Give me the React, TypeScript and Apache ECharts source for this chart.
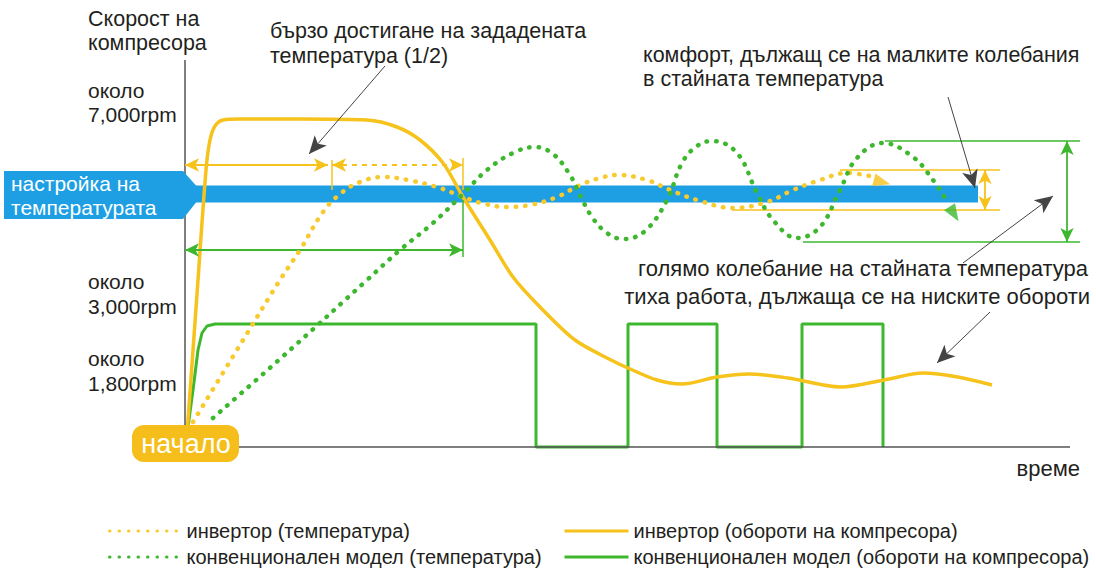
import React, { useEffect, useRef } from "react";
import * as echarts from "echarts";

// ---- data (x = time from start, y = level above the time axis) ----
const inverterSpeed: [number, number][] = [
  [1, 5], [3, 27], [13, 167], [21, 277], [25, 307], [30, 321], [38, 327], [55, 328],
  [115, 328], [182, 327], [212, 320], [235, 307], [258, 284], [278, 250], [305, 207],
  [328, 170], [355, 140], [390, 107], [426, 87], [443, 79], [472, 67], [497, 63],
  [532, 70], [564, 73], [603, 69], [656, 60], [699, 67], [738, 74], [773, 70], [807, 62],
];
const conventionalSpeed: [number, number][] = [
  [1, 5], [8, 57], [13, 97], [17, 114], [22, 121], [30, 123], [351, 123], [351, 0],
  [443, 0], [443, 123], [532, 123], [532, 0], [617, 0], [617, 123], [698, 123], [698, 0],
];
const inverterTemp: [number, number][] = [
  [8, 25], [55, 102], [95, 167], [115, 197], [138, 235], [155, 253], [175, 265], [198, 270],
  [228, 266], [255, 259], [278, 250], [300, 243], [322, 240], [345, 242], [372, 250],
  [395, 262], [415, 269], [432, 272], [462, 267], [485, 257], [512, 247], [548, 239],
  [582, 245], [608, 257], [635, 267], [662, 274], [685, 271],
];
const conventionalTemp: [number, number][] = [
  [28, 29], [105, 97], [182, 167], [215, 197], [248, 224], [278, 253], [302, 277],
  [328, 294], [350, 300], [368, 293], [385, 272], [395, 252], [407, 230], [422, 214],
  [438, 208], [460, 216], [482, 247], [497, 284], [512, 301], [527, 306], [552, 294],
  [572, 254], [588, 227], [612, 209], [635, 220], [655, 257], [672, 289], [698, 304],
  [728, 290], [748, 267], [760, 249],
];
const setpointBand: [number, number][] = [[10, 253], [793, 253]];
// arrow heads at the end of the temperature curves: [x, y, rotation]
const tempArrowHeads: [number, number, number][] = [
  [697, 265, -105],
  [769, 233, -148],
];

const seriesNames = [
  "инвертор (температура)",
  "конвенционален модел (температура)",
  "инвертор (обороти на компресора)",
  "конвенционален модел (обороти на компресора)",
];

// dimension / guide lines: [x1, y1, x2, y2]
const yellowArrows: [number, number, number, number][] = [
  [0, 282, 143, 282],
  [800, 277, 800, 237],
];
const yellowDashedArrows: [number, number, number, number][] = [[147, 282, 278, 282]];
const yellowGuides: [number, number, number, number][] = [
  [147, 287, 147, 257],
  [278, 289, 278, 257],
  [655, 277, 815, 277],
  [547, 237, 815, 237],
];
const greenArrows: [number, number, number, number][] = [
  [0, 197, 278, 197],
  [882, 306, 882, 205],
];
const greenGuides: [number, number, number, number][] = [
  [278, 247, 278, 190],
  [700, 306, 895, 306],
  [618, 205, 895, 205],
];
const pointerArrows: [number, number, number, number][] = [
  [200, 381, 124, 293],
  [763, 350, 790, 259],
  [778, 184, 868, 251],
  [805, 135, 752, 84],
];
const axisLines: [number, number, number, number][] = [
  [0, 0, 0, 387],
  [54, 0, 885, 0],
];

const YELLOW = "#F6C21C";
const YELLOW_DOT = "#F8CA2E";
const GREEN = "#3DB82E";
const BLUE = "#1E9FE3";
const TEXT = "#231F20";
const FONT = "Liberation Sans";

function seg(
  l: [number, number, number, number],
  color: string,
  width: number,
  type: any,
  sym: [string, string],
  size: any
) {
  return [
    { coord: [l[0], l[1]], symbol: sym[0], symbolSize: size, lineStyle: { color, width, type } },
    { coord: [l[2], l[3]], symbol: sym[1], symbolSize: size },
  ];
}

function txt(text: string, x: number, y: number, size = 21.5, fill = TEXT, align = "left", lh = 24.5) {
  return {
    type: "text",
    x,
    y,
    z: 100,
    silent: true,
    style: {
      text,
      fill,
      fontSize: size,
      fontFamily: FONT,
      lineHeight: lh,
      align,
      verticalAlign: "middle",
      textAlign: align,
      textVerticalAlign: "middle",
    },
  };
}

export default function App() {
  const ref = useRef<HTMLDivElement>(null);
  useEffect(() => {
    document.body.style.margin = "0";
    const chart = echarts.init(ref.current!, null, { renderer: "svg" });
    const markData: any[] = [
      ...axisLines.map((l) => seg(l, "#555", 1.5, "solid", ["none", "none"], 0)),
      ...yellowGuides.map((l) => seg(l, YELLOW, 1.5, "solid", ["none", "none"], 0)),
      ...greenGuides.map((l) => seg(l, GREEN, 1.5, "solid", ["none", "none"], 0)),
      ...yellowArrows.map((l) => seg(l, YELLOW, 1.8, "solid", ["arrow", "arrow"], [10, 14])),
      ...yellowDashedArrows.map((l) => seg(l, YELLOW, 1.8, [5, 5], ["arrow", "arrow"], [10, 14])),
      ...greenArrows.map((l) => seg(l, GREEN, 1.8, "solid", ["arrow", "arrow"], [10, 14])),
      ...pointerArrows.map((l) => seg(l, "#444", 1, "solid", ["none", "arrow"], [12, 18])),
    ];
    const legendBase = {
      top: 515,
      orient: "vertical",
      itemHeight: 12,
      itemGap: 4,
      selectedMode: false,
      textStyle: { fontSize: 20, fontFamily: FONT, color: TEXT, lineHeight: 22 },
      lineStyle: { width: 3 },
      itemStyle: { color: "rgba(0,0,0,0)", borderWidth: 0, opacity: 0 },
    };
    const dotted = { width: 4.5, type: [0.5, 9], cap: "round" };
    const option: any = {
      animation: false,
      grid: { left: 185, right: 0, top: 47, bottom: 127 },
      xAxis: { type: "value", min: 0, max: 911, show: false },
      yAxis: { type: "value", min: 0, max: 400, show: false },
      legend: [
        { ...legendBase, left: 103, itemWidth: 72, data: [seriesNames[0], seriesNames[1]] },
        { ...legendBase, left: 558, itemWidth: 64, data: [seriesNames[2], seriesNames[3]] },
      ],
      series: [
        {
          name: "band",
          type: "line",
          data: setpointBand,
          symbol: "none",
          silent: true,
          z: 1,
          clip: false,
          lineStyle: { color: BLUE, width: 17, cap: "butt" },
          markLine: {
            silent: true,
            animation: false,
            label: { show: false },
            emphasis: { disabled: true },
            data: markData,
          },
        },
        {
          name: seriesNames[3],
          type: "line",
          data: conventionalSpeed,
          symbol: "none",
          clip: false,
          z: 3,
          itemStyle: { color: GREEN },
          lineStyle: { color: GREEN, width: 3 },
          emphasis: { disabled: true },
        },
        {
          name: seriesNames[2],
          type: "line",
          data: inverterSpeed,
          symbol: "none",
          smooth: 0.3,
          clip: false,
          z: 4,
          itemStyle: { color: YELLOW },
          lineStyle: { color: YELLOW, width: 3.5 },
          emphasis: { disabled: true },
        },
        {
          name: seriesNames[0],
          type: "line",
          data: inverterTemp,
          symbol: "none",
          smooth: 0.4,
          clip: false,
          z: 5,
          itemStyle: { color: YELLOW_DOT },
          lineStyle: { color: YELLOW_DOT, ...dotted },
          emphasis: { disabled: true },
        },
        {
          name: seriesNames[1],
          type: "line",
          data: conventionalTemp,
          symbol: "none",
          smooth: 0.4,
          clip: false,
          z: 5,
          itemStyle: { color: GREEN },
          lineStyle: { color: GREEN, ...dotted },
          emphasis: { disabled: true },
        },
        {
          name: "arrowheads",
          type: "scatter",
          symbol: "triangle",
          symbolSize: [13, 17],
          silent: true,
          z: 6,
          data: tempArrowHeads.map((a, i) => ({
            value: [a[0], a[1]],
            symbolRotate: a[2],
            itemStyle: { color: i === 0 ? YELLOW : GREEN },
          })),
        },
      ],
      graphic: [
        {
          type: "polygon",
          z: 50,
          silent: true,
          shape: {
            points: [[4, 171], [183, 171], [196, 185.5], [196, 202.5], [183, 219], [4, 219]],
          },
          style: { fill: BLUE },
        },
        txt("настройка на\nтемпературата", 11, 195, 21, "#fff", "left", 24),
        {
          type: "rect",
          z: 90,
          silent: true,
          shape: { x: 132, y: 425, width: 107, height: 37, r: 12 },
          style: { fill: "#F5BE1A" },
        },
        txt("начало", 186, 444, 27, "#fff", "center", 30),
        txt("Скорост на\nкомпресора", 88, 31, 21.5, TEXT, "left", 24.2),
        txt("около\n7,000rpm", 88, 102.5, 21),
        txt("около\n3,000rpm", 88, 294, 21),
        txt("около\n1,800rpm", 88, 371, 21),
        txt("бързо достигане на зададената\nтемпература (1/2)", 270, 43.5),
        txt("комфорт, дължащ се на малките колебания\nв стайната температура", 643, 67, 21.5, TEXT, "left", 24.2),
        txt("голямо колебание на стайната температура", 1088, 268, 22, TEXT, "right"),
        txt("тиха работа, дължаща се на ниските обороти", 1090, 296, 22, TEXT, "right"),
        txt("време", 1080, 468, 22, TEXT, "right"),
      ],
    };
    chart.setOption(option);
    return () => chart.dispose();
  }, []);
  return (
    <div
      ref={ref}
      style={{ position: "fixed", left: 0, top: 0, width: 1096, height: 574, background: "#fff" }}
    />
  );
}
